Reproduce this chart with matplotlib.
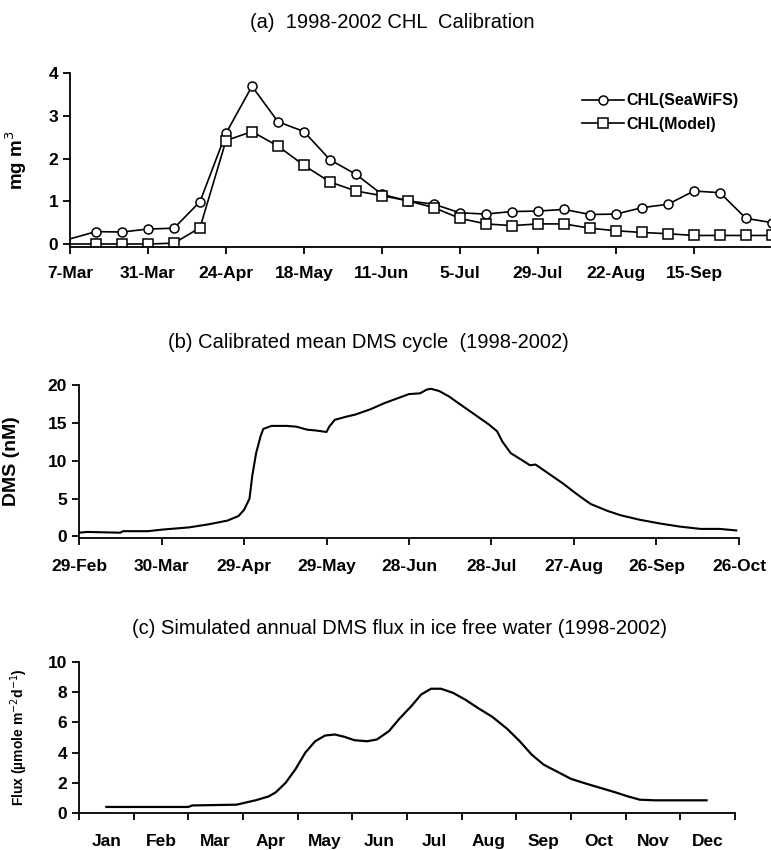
import matplotlib
matplotlib.use('Agg')
import matplotlib.pyplot as plt

plt.rcParams.update({
    'font.family': ['Liberation Sans', 'DejaVu Sans'],
    'axes.spines.top': False, 'axes.spines.right': False,
    'axes.linewidth': 1.3,
    'xtick.major.width': 1.3, 'ytick.major.width': 1.3,
    'xtick.major.size': 5, 'ytick.major.size': 5,
    'xtick.direction': 'out', 'ytick.direction': 'out',
})

# (a) 8-day CHL, days after 7-Mar
chl_days = [0, 8, 16, 24, 32, 40, 48, 56, 64, 72, 80, 88, 96, 104, 112, 120, 128,
            136, 144, 152, 160, 168, 176, 184, 192, 200, 208, 216]
chl_seawifs = [0.12, 0.29, 0.28, 0.35, 0.37, 0.99, 2.59, 3.69, 2.86, 2.63, 1.97, 1.63,
               1.16, 1.01, 0.93, 0.73, 0.70, 0.76, 0.77, 0.81, 0.69, 0.70, 0.85, 0.93,
               1.24, 1.20, 0.60, 0.50]
chl_model = [0.0, 0.0, 0.0, 0.0, 0.02, 0.38, 2.42, 2.63, 2.29, 1.84, 1.45, 1.24,
             1.13, 1.01, 0.85, 0.60, 0.47, 0.43, 0.47, 0.47, 0.37, 0.31, 0.27, 0.24,
             0.20, 0.20, 0.20, 0.20]
chl_ticks = [0, 24, 48, 72, 96, 120, 144, 168, 192]
chl_labels = ['7-Mar', '31-Mar', '24-Apr', '18-May', '11-Jun', '5-Jul', '29-Jul', '22-Aug', '15-Sep']

# (b) DMS, days after 29-Feb
dms_days = [0, 3, 15, 16, 25, 30, 40, 47, 54, 58, 60, 62, 63, 64.4, 66, 67, 70, 75.5,
            79, 83, 86, 90, 91, 93, 97, 100.5, 106, 111, 117, 120, 124, 126.5, 128,
            131, 134.5, 138, 143.5, 149, 152, 154, 157, 161, 164, 166, 170, 176, 181,
            186, 192, 197, 204, 211.5, 218.6, 226, 233, 239]
dms_vals = [0.5, 0.6, 0.5, 0.7, 0.7, 0.9, 1.2, 1.6, 2.1, 2.7, 3.5, 5.0, 8.0, 11.0,
            13.2, 14.2, 14.6, 14.6, 14.5, 14.1, 14.0, 13.8, 14.5, 15.4, 15.8, 16.1,
            16.8, 17.6, 18.4, 18.8, 18.9, 19.4, 19.5, 19.2, 18.5, 17.6, 16.2, 14.8,
            13.9, 12.5, 11.0, 10.1, 9.4, 9.5, 8.5, 7.0, 5.6, 4.3, 3.4, 2.8, 2.2, 1.7,
            1.3, 1.0, 1.0, 0.8]
dms_ticks = [0, 30, 60, 90, 120, 150, 180, 210, 240]
dms_labels = ['29-Feb', '30-Mar', '29-Apr', '29-May', '28-Jun', '28-Jul', '27-Aug', '26-Sep', '26-Oct']

# (c) DMS flux, month position (0 = start of Jan)
flux_month = [0.5, 2.0, 2.07, 2.88, 3.06, 3.24, 3.47, 3.6, 3.78, 3.96, 4.14, 4.32, 4.5,
              4.68, 4.86, 5.04, 5.27, 5.45, 5.67, 5.85, 6.08, 6.26, 6.44, 6.62, 6.84,
              7.07, 7.29, 7.56, 7.83, 8.06, 8.28, 8.5, 8.73, 9.0, 9.27, 9.54, 9.81,
              10.04, 10.26, 10.53, 11.48]
flux_vals = [0.40, 0.40, 0.50, 0.55, 0.70, 0.85, 1.10, 1.37, 2.0, 2.9, 4.0, 4.75, 5.13,
             5.2, 5.04, 4.82, 4.75, 4.87, 5.42, 6.2, 7.08, 7.85, 8.23, 8.23, 7.96, 7.5,
             6.97, 6.37, 5.58, 4.76, 3.87, 3.2, 2.77, 2.26, 1.95, 1.66, 1.37, 1.1, 0.88,
             0.84, 0.84]
months = ['Jan', 'Feb', 'Mar', 'Apr', 'May', 'Jun', 'Jul', 'Aug', 'Sep', 'Oct', 'Nov', 'Dec']

W, H = 771, 850
fig = plt.figure(figsize=(W / 100, H / 100), dpi=100)


def box(left, right, top, bottom):
    return [left / W, 1 - bottom / H, (right - left) / W, (bottom - top) / H]


TICKFS = 12.5
TITLEFS = 14.5

# ---- panel (a)
ax1 = fig.add_axes(box(70, 770, 73, 247))
ax1.plot(chl_days, chl_seawifs, color='black', lw=1.2, marker='o', ms=6.5,
         mfc='white', mec='black', mew=1.1, markevery=slice(1, None), label='CHL(SeaWiFS)')
ax1.plot(chl_days, chl_model, color='black', lw=1.2, marker='s', ms=6.5,
         mfc='white', mec='black', mew=1.1, markevery=slice(1, None), label='CHL(Model)')
ax1.set_xlim(0, 215.4)
ax1.set_ylim(-0.07, 4)
ax1.set_xticks(chl_ticks)
ax1.set_xticklabels(chl_labels)
ax1.tick_params(axis='x', pad=9)
ax1.set_yticks([0, 1, 2, 3, 4])
ax1.set_ylabel('mg m$^{3}$', fontsize=13.5, fontweight='bold')
ax1.yaxis.set_label_coords(-0.058, 0.5)
ax1.legend(loc='upper left', bbox_to_anchor=((574 - 70) / 700, 0.93), frameon=False,
           prop={'weight': 'bold', 'size': 11.5}, handlelength=2.6,
           handletextpad=0.2, borderpad=0, labelspacing=0.55)
fig.text(392 / W, 1 - 23 / H, '(a)  1998-2002 CHL  Calibration', fontsize=TITLEFS,
         ha='center', va='center')

# ---- panel (b)
ax2 = fig.add_axes(box(79, 739, 385, 538))
ax2.plot(dms_days, dms_vals, color='black', lw=1.5)
ax2.set_xlim(0, 240)
ax2.set_ylim(-0.2, 20)
ax2.set_xticks(dms_ticks)
ax2.set_xticklabels(dms_labels)
ax2.tick_params(axis='x', pad=10)
ax2.set_yticks([0, 5, 10, 15, 20])
ax2.set_ylabel('DMS (nM)', fontsize=14, fontweight='bold')
ax2.yaxis.set_label_coords(-0.089, 0.5)
fig.text(368 / W, 1 - 343 / H, '(b) Calibrated mean DMS cycle  (1998-2002)', fontsize=TITLEFS,
         ha='center', va='center')

# ---- panel (c)
ax3 = fig.add_axes(box(79, 735, 662, 813))
ax3.plot(flux_month, flux_vals, color='black', lw=1.6)
ax3.set_xlim(0, 12)
ax3.set_ylim(0, 10)
ax3.set_xticks(range(13))
ax3.set_xticklabels([])
ax3.set_xticks([m + 0.5 for m in range(12)], minor=True)
ax3.set_xticklabels(months, minor=True)
ax3.tick_params(axis='x', which='minor', length=0, pad=15)
ax3.set_yticks([0, 2, 4, 6, 8, 10])
ax3.set_ylabel('Flux (µmole m$^{-2}$d$^{-1}$)', fontsize=10, fontweight='bold')
ax3.yaxis.set_label_coords(-0.075, 0.5)
fig.text(399 / W, 1 - 628 / H, '(c) Simulated annual DMS flux in ice free water (1998-2002)',
         fontsize=TITLEFS, ha='center', va='center')

for ax in (ax1, ax2, ax3):
    ax.tick_params(which='both', labelsize=TICKFS)
    for lab in ax.get_xticklabels(which='both') + ax.get_yticklabels():
        lab.set_fontweight('bold')

fig.savefig('out.png', dpi=100)
